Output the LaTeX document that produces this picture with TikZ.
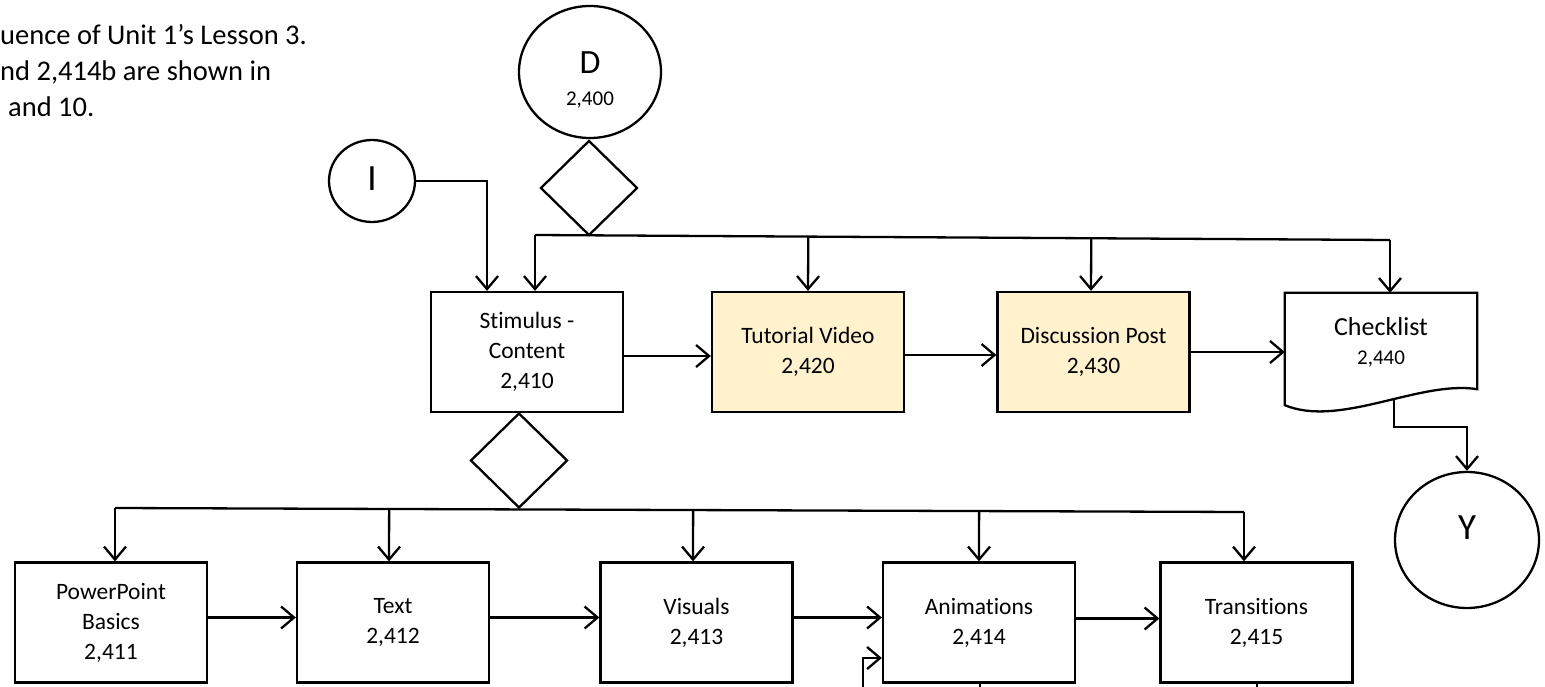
\documentclass[tikz,border=0pt]{standalone}
\usepackage{fontspec}
\setmainfont{Carlito}[Ligatures=NoCommon]
\usetikzlibrary{arrows.meta,shapes.geometric,calc}
\definecolor{hlyellow}{HTML}{FFF2CC}
\begin{document}
\begin{tikzpicture}[x=1pt,y=-1pt,
  ln/.style={line width=2.3pt},
  arr/.style={ln,-{Straight Barb[length=13pt,width=22pt]}},
  box/.style={draw,line width=2.3pt,minimum width=192pt,minimum height=120pt,inner sep=0pt,align=center,font=\fontsize{23.5}{30}\selectfont},
  hl/.style={box,fill=hlyellow},
  circ/.style={draw,ellipse,line width=2.3pt,inner sep=0pt},
  dia/.style={draw,diamond,line width=2.3pt,inner sep=0pt,minimum width=97pt,minimum height=95pt},
  lbl/.style={inner sep=0pt},
  note/.style={anchor=base west,inner sep=0pt,font=\fontsize{28.5}{34}\selectfont}]
\clip (0,0) rectangle (1545,687);

% top-left note
\node[note] (n1) at (0,45) {uence of Unit 1’s Lesson 3.};
\node[note] (n2) at (0,81) {nd 2,414b are shown in};
\node[note] (n3) at (8,117) {and 10.};

% D connector and decision
\node[circ,minimum width=142pt,minimum height=132pt] (D) at (590,72) {};
\node[lbl,font=\fontsize{34}{40}\selectfont] (Dt) at (590,63) {D};
\node[lbl,font=\fontsize{21}{25}\selectfont] (Dn) at (590,100) {2,400};
\node[dia] (d1) at (589,188) {};

% I connector
\node[circ,minimum width=86pt,minimum height=82pt] (I) at (372,181) {};
\node[lbl,font=\fontsize{37}{40}\selectfont] (It) at (372,179) {I};

% upper row
\node[box] (stim) at (527,352) {Stimulus -\\Content\\2,410};
\node[hl] (tut) at (808,352) {Tutorial Video\\2,420};
\node[hl] (disc) at (1093.5,352) {Discussion Post\\2,430};
\node[inner sep=0pt,minimum width=192pt,minimum height=112pt] (chk) at (1381,349) {};
\draw[ln,line join=miter] (chk.south west) -- (chk.north west) -- (chk.north east) -- ([yshift=16pt]chk.south east)
  .. controls (1420,380) and (1340,428) .. (chk.south west) -- cycle;
\node[lbl,font=\fontsize{26}{30}\selectfont] (chkt) at (1381,327) {Checklist};
\node[lbl,font=\fontsize{21}{25}\selectfont] (chkn) at (1381,359) {2,440};
\coordinate (chkout) at (1394,399.5);

% Y connector
\node[circ,minimum width=144pt,minimum height=136pt] (Y) at (1467,540) {};
\node[lbl,font=\fontsize{37}{40}\selectfont] (Yt) at (1467,528) {Y};

% second decision
\node[dia] (d2) at (519,460.5) {};

% lower row
\node[box] (pp) at (111,622.5) {PowerPoint\\Basics\\2,411};
\node[box] (txt) at (393,622.5) {Text\\2,412};
\node[box] (vis) at (696.5,622.5) {Visuals\\2,413};
\node[box] (anim) at (979,622.5) {Animations\\2,414};
\node[box] (trans) at (1256.5,622.5) {Transitions\\2,415};

% upper bus
\coordinate (b1a) at (535,235);
\coordinate (b1b) at (1390,240);
\draw[ln] (b1a) -- (b1b);
\draw[arr] (b1a) -- ([xshift=8pt]stim.north);
\draw[arr] ($(b1a)!(tut.north)!(b1b)$) -- (tut.north);
\draw[arr] ($(b1a)!([xshift=-2.5pt]disc.north)!(b1b)$) -- ([xshift=-2.5pt]disc.north);
\draw[arr] (b1b) -- ([xshift=9pt]chk.north);
\draw[arr] (I.east) -| ([xshift=-40pt]stim.north);

% upper row flow
\draw[arr] ([yshift=-4pt]stim.east) -- ([yshift=-4pt]tut.west);
\draw[arr] ([yshift=-3pt]tut.east) -- ([yshift=-3pt]disc.west);
\draw[arr] (disc.east) -- (disc.east -| chk.west);
\draw[arr] (chkout) -- (chkout |- 0,427) -| (Y.north);

% lower bus
\coordinate (b2a) at (115,508);
\coordinate (b2b) at (1244,512);
\draw[ln] (b2a) -- (b2b);
\draw[arr] (b2a) -- ([xshift=4pt]pp.north);
\draw[arr] ($(b2a)!([xshift=-4pt]txt.north)!(b2b)$) -- ([xshift=-4pt]txt.north);
\draw[arr] ($(b2a)!([xshift=-3.5pt]vis.north)!(b2b)$) -- ([xshift=-3.5pt]vis.north);
\draw[arr] ($(b2a)!(anim.north)!(b2b)$) -- (anim.north);
\draw[arr] (b2b) -- ([xshift=-12.5pt]trans.north);

% lower row flow
\draw[arr] ([yshift=5pt]pp.east) -- ([yshift=5pt]txt.west);
\draw[arr] ([yshift=5pt]txt.east) -- ([yshift=5pt]vis.west);
\draw[arr] ([yshift=5pt]vis.east) -- ([yshift=5pt]anim.west);
\draw[arr] ([yshift=4pt]anim.east) -- ([yshift=4pt]trans.west);

% connectors leaving the picture
\coordinate (lb) at (863,700);
\draw[arr] (lb) |- ([yshift=-35.5pt]anim.west);
\draw[ln] ([xshift=1pt]anim.south) -- ++(0,20);
\draw[ln] ([xshift=0.5pt]trans.south) -- ++(0,20);
\end{tikzpicture}
\end{document}
